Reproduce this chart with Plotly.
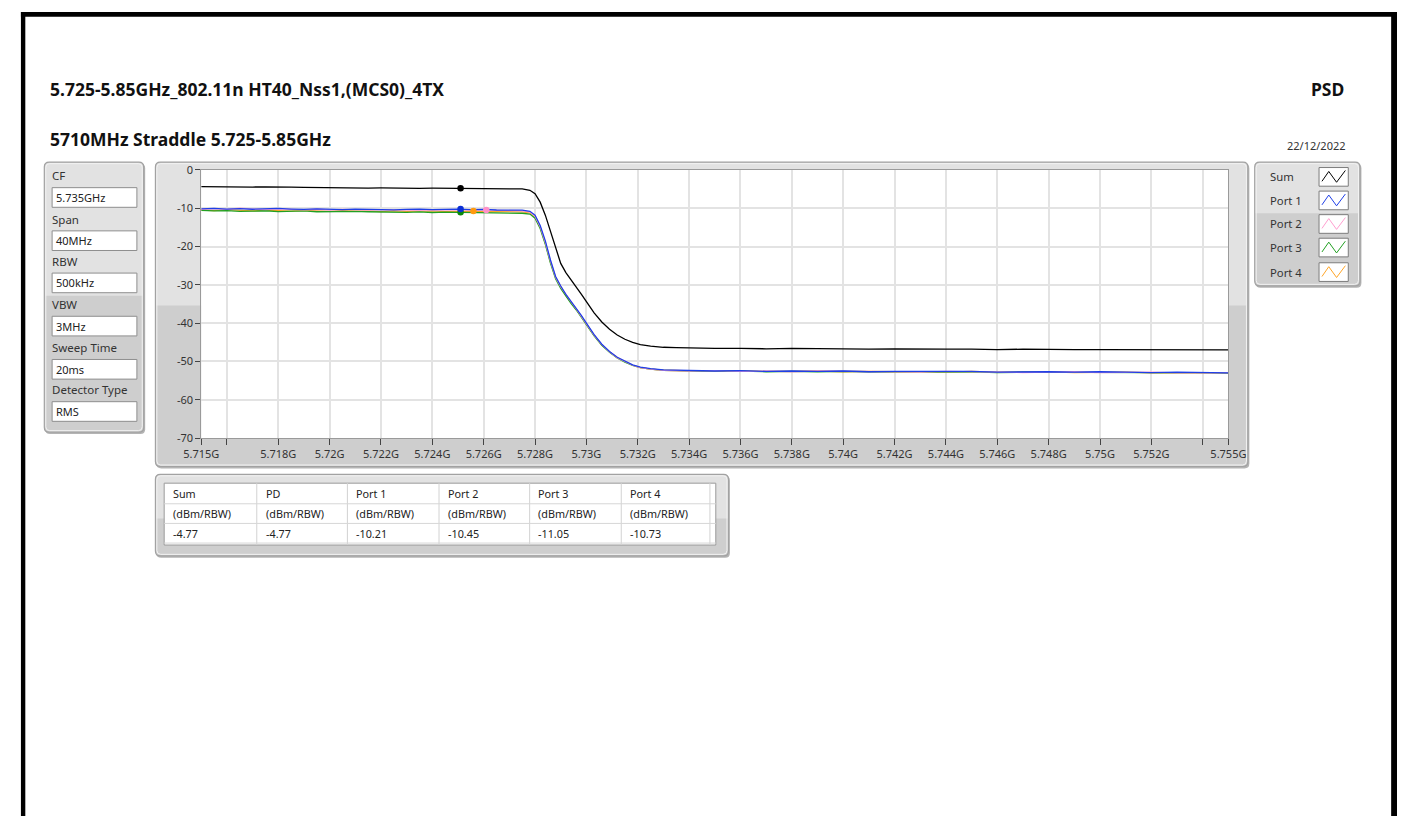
import plotly.graph_objects as go

W, H = 1415, 823

# ---------------- data ----------------
freq_ghz = [
    5.7150, 5.7155, 5.7160, 5.7165, 5.7170, 5.7175, 5.7180, 5.7185, 5.7190, 5.7195,
    5.7200, 5.7205, 5.7210, 5.7215, 5.7220, 5.7225, 5.7230, 5.7235, 5.7240, 5.7245,
    5.7250, 5.7255, 5.7260, 5.7265, 5.7270, 5.7275,
    5.7278, 5.7280, 5.7282, 5.7284, 5.7286, 5.7288, 5.7290, 5.7292, 5.7294, 5.7296,
    5.7298, 5.7300, 5.7303, 5.7306, 5.7309, 5.7312, 5.7315, 5.7318, 5.7321, 5.7325,
    5.7330, 5.7335,
    5.734, 5.735, 5.736, 5.737, 5.738, 5.739, 5.740, 5.741, 5.742, 5.743, 5.744,
    5.745, 5.746, 5.747, 5.748, 5.749, 5.750, 5.751, 5.752, 5.753, 5.754, 5.755,
]

sum_dbm = [
    -4.35, -4.42, -4.30, -4.38, -4.45, -4.40, -4.52, -4.48, -4.55, -4.62,
    -4.58, -4.70, -4.66, -4.72, -4.68, -4.75, -4.70, -4.78, -4.74, -4.80,
    -4.77, -4.85, -4.90, -4.86, -4.92, -4.95,
    -5.3, -6.2, -8.4, -11.8, -16.0, -20.8, -24.4, -26.8, -28.6, -30.4,
    -32.4, -34.4, -37.3, -39.7, -41.6, -43.1, -44.2, -45.0, -45.6, -46.0,
    -46.3, -46.4,
    -46.5, -46.6, -46.6, -46.7, -46.6, -46.7, -46.7, -46.8, -46.7, -46.8, -46.8,
    -46.8, -46.9, -46.8, -46.9, -46.9, -46.9, -46.9, -47.0, -46.9, -47.0, -47.0,
]

port1_dbm = [
    -10.15, -10.05, -10.20, -10.10, -10.25, -10.15, -10.05, -10.20, -10.30, -10.15,
    -10.25, -10.35, -10.20, -10.30, -10.25, -10.40, -10.30, -10.20, -10.35, -10.25,
    -10.21, -10.35, -10.30, -10.45, -10.40, -10.50,
    -10.8, -11.8, -14.5, -18.5, -23.5, -27.8, -30.3, -32.5, -34.3, -36.0,
    -38.0, -40.0, -43.0, -45.5, -47.4, -48.9, -50.0, -50.9, -51.5, -51.9,
    -52.2, -52.3,
    -52.4, -52.5, -52.4, -52.6, -52.5, -52.6, -52.5, -52.7, -52.6, -52.6, -52.7,
    -52.6, -52.8, -52.7, -52.7, -52.8, -52.7, -52.8, -52.9, -52.8, -52.9, -53.0,
]

port2_dbm = [
    -10.25, -10.10, -10.30, -9.95, -10.20, -10.35, -10.15, -10.30, -10.40, -10.25,
    -10.45, -10.30, -10.40, -10.50, -10.35, -10.45, -10.40, -10.55, -10.45, -10.50,
    -10.40, -10.45, -10.45, -10.50, -10.55, -10.65,
    -11.0, -12.1, -14.8, -18.9, -23.8, -28.0, -30.5, -32.6, -34.4, -36.2,
    -38.1, -40.2, -43.1, -45.6, -47.5, -49.0, -50.1, -51.0, -51.6, -52.0,
    -52.3, -52.4,
    -52.5, -52.4, -52.6, -52.5, -52.7, -52.5, -52.6, -52.6, -52.7, -52.8, -52.6,
    -52.7, -52.7, -52.9, -52.8, -52.7, -52.9, -52.8, -52.8, -53.0, -52.9, -53.0,
]

port3_dbm = [
    -10.55, -10.70, -10.60, -10.80, -10.75, -10.65, -10.85, -10.80, -10.70, -10.90,
    -10.85, -10.95, -10.80, -10.90, -11.00, -10.95, -11.05, -10.95, -11.10, -11.00,
    -11.05, -11.10, -11.20, -11.15, -11.25, -11.30,
    -11.5, -12.6, -15.3, -19.4, -24.3, -28.4, -30.9, -33.0, -34.8, -36.5,
    -38.4, -40.4, -43.3, -45.8, -47.6, -49.1, -50.2, -51.0, -51.6, -52.0,
    -52.3, -52.4,
    -52.6, -52.5, -52.5, -52.7, -52.6, -52.7, -52.6, -52.7, -52.8, -52.7, -52.8,
    -52.7, -52.9, -52.8, -52.8, -52.9, -52.8, -52.9, -52.9, -53.0, -52.9, -53.1,
]

port4_dbm = [
    -10.45, -10.60, -10.35, -10.55, -10.70, -10.50, -10.60, -10.75, -10.55, -10.65,
    -10.80, -10.60, -10.75, -10.70, -10.85, -10.65, -10.80, -10.75, -10.70, -10.85,
    -10.70, -10.73, -10.90, -10.80, -10.85, -10.95,
    -11.2, -12.3, -15.0, -19.1, -24.0, -28.1, -30.6, -32.8, -34.6, -36.3,
    -38.2, -40.3, -43.2, -45.7, -47.5, -49.0, -50.1, -51.0, -51.6, -52.0,
    -52.3, -52.4,
    -52.5, -52.6, -52.4, -52.6, -52.6, -52.5, -52.7, -52.6, -52.7, -52.7, -52.8,
    -52.6, -52.8, -52.8, -52.7, -52.9, -52.8, -52.8, -53.0, -52.9, -52.9, -53.0,
]

series_names = ["Sum", "Port 1", "Port 2", "Port 3", "Port 4"]
marker_freq_ghz = [5.7251, 5.7251, 5.7261, 5.7251, 5.7256]
marker_level_dbm = [-4.77, -10.21, -10.45, -11.05, -10.73]

x_tick_vals = [5.715, 5.716, 5.718, 5.720, 5.722, 5.724, 5.726, 5.728, 5.730, 5.732,
               5.734, 5.736, 5.738, 5.740, 5.742, 5.744, 5.746, 5.748, 5.750, 5.752,
               5.754, 5.755]
x_tick_text = ["5.715G", "", "5.718G", "5.72G", "5.722G", "5.724G", "5.726G", "5.728G",
               "5.73G", "5.732G", "5.734G", "5.736G", "5.738G", "5.74G", "5.742G",
               "5.744G", "5.746G", "5.748G", "5.75G", "5.752G", "", "5.755G"]
y_tick_vals = [0, -10, -20, -30, -40, -50, -60, -70]

setting_labels = ["CF", "Span", "RBW", "VBW", "Sweep Time", "Detector Type"]
setting_values = ["5.735GHz", "40MHz", "500kHz", "3MHz", "20ms", "RMS"]

table_headers = ["Sum", "PD", "Port 1", "Port 2", "Port 3", "Port 4"]
table_unit = "(dBm/RBW)"
table_values = [-4.77, -4.77, -10.21, -10.45, -11.05, -10.73]

title_main = "5.725-5.85GHz_802.11n HT40_Nss1,(MCS0)_4TX"
title_sub = "5710MHz Straddle 5.725-5.85GHz"
title_right = "PSD"
date_text = "22/12/2022"

# ---------------- styling ----------------
FONT = "Noto Sans"
line_colors = ["#000000", "#1f3fe8", "#ff9fd0", "#22a022", "#ffa526"]
marker_colors = ["#000000", "#0a2fd6", "#ff90c8", "#0a8a0a", "#ff9a10"]
LIGHT = "#e2e2e2"
DARK = "#cecece"
EDGE = "#a2a2a2"


def X(px):
    return px / W


def Y(py):
    return 1 - py / H


def rr_path(x0, y0, x1, y1, r, top_round=True, bottom_round=True):
    rt = r if top_round else 0
    rb = r if bottom_round else 0
    p = []
    p.append(f"M {X(x0 + rt):.6f},{Y(y0):.6f}")
    p.append(f"L {X(x1 - rt):.6f},{Y(y0):.6f}")
    p.append(f"Q {X(x1):.6f},{Y(y0):.6f} {X(x1):.6f},{Y(y0 + rt):.6f}")
    p.append(f"L {X(x1):.6f},{Y(y1 - rb):.6f}")
    p.append(f"Q {X(x1):.6f},{Y(y1):.6f} {X(x1 - rb):.6f},{Y(y1):.6f}")
    p.append(f"L {X(x0 + rb):.6f},{Y(y1):.6f}")
    p.append(f"Q {X(x0):.6f},{Y(y1):.6f} {X(x0):.6f},{Y(y1 - rb):.6f}")
    p.append(f"L {X(x0):.6f},{Y(y0 + rt):.6f}")
    p.append(f"Q {X(x0):.6f},{Y(y0):.6f} {X(x0 + rt):.6f},{Y(y0):.6f} Z")
    return " ".join(p)


shapes = []


def rect(x0, y0, x1, y1, fill, line=None, lw=1):
    shapes.append(dict(type="rect", xref="paper", yref="paper", layer="below",
                       x0=X(x0), x1=X(x1), y0=Y(y1), y1=Y(y0),
                       fillcolor=fill,
                       line=dict(color=line or fill, width=lw if line else 0)))


def hline(x0, x1, y, color, lw=1):
    shapes.append(dict(type="line", xref="paper", yref="paper", layer="below",
                       x0=X(x0), x1=X(x1), y0=Y(y), y1=Y(y),
                       line=dict(color=color, width=lw)))


def vline(x, y0, y1, color, lw=1):
    shapes.append(dict(type="line", xref="paper", yref="paper", layer="below",
                       x0=X(x), x1=X(x), y0=Y(y0), y1=Y(y1),
                       line=dict(color=color, width=lw)))


def panel(x0, y0, x1, y1, split, r=5):
    shapes.append(dict(type="path", xref="paper", yref="paper", layer="below",
                       path=rr_path(x0 + 1, y0 + 1.5, x1 + 1.5, y1 + 2, r),
                       fillcolor="#b4b4b4", line=dict(width=0)))
    shapes.append(dict(type="path", xref="paper", yref="paper", layer="below",
                       path=rr_path(x0, y0, x1, y1, r),
                       fillcolor=DARK, line=dict(color=EDGE, width=1.2)))
    shapes.append(dict(type="path", xref="paper", yref="paper", layer="below",
                       path=rr_path(x0 + 1, y0 + 1, x1 - 1, split, r - 1, bottom_round=False),
                       fillcolor=LIGHT, line=dict(width=0)))
    shapes.append(dict(type="path", xref="paper", yref="paper", layer="below",
                       path=rr_path(x0 + 1.5, y0 + 1.5, x1 - 1.5, y1 - 1.5, r - 1),
                       fillcolor="rgba(0,0,0,0)", line=dict(color="#f2f2f2", width=1)))


annotations = []


def text(x, y, s, size=12, color="#2b2b2b", xanchor="left", bold=False):
    annotations.append(dict(xref="paper", yref="paper", x=X(x), y=Y(y),
                            text=(f"<b>{s}</b>" if bold else s),
                            showarrow=False, xanchor=xanchor, yanchor="middle",
                            font=dict(family=FONT, size=size, color=color)))


# page frame
rect(3, 4, 7.5, H, "#000000")
rect(3, 4, 1413, 9, "#000000")
rect(1409, 4, 1415, H, "#000000")

# titles
text(31, 83, title_main, size=17.5, color="#111111", bold=True)
text(1363, 82, title_right, size=17.5, color="#111111", xanchor="right", bold=True)
text(31, 133, title_sub, size=17.5, color="#111111", bold=True)
text(1365, 140, date_text, size=11, color="#333333", xanchor="right")

# left settings panel
panel(27, 157, 129, 432, split=293)
label_y = [171, 215, 258, 302, 346, 389]
for lab, val, ly in zip(setting_labels, setting_values, label_y):
    text(33, ly, lab, size=11.5, color="#333333")
    bx0, by0, bx1, by1 = 35, ly + 12, 122, ly + 32
    rect(bx0, by0, bx1, by1, "#ffffff", line="#8e8e8e", lw=1)
    text(bx0 + 2, (by0 + by1) / 2, val, size=11, color="#222222")

# plot panel
panel(141, 157, 1262, 467, split=303)
rect(188, 165, 1242, 438, "#ffffff")

# legend panel
panel(1269, 157, 1377, 283, split=209)
leg_y = [172, 196, 220, 244, 269]
for name, col, ly in zip(series_names, line_colors, leg_y):
    text(1283, ly, name, size=11.3, color="#333333")
    bx0, by0, bx1, by1 = 1335, ly - 9.5, 1365, ly + 9.5
    rect(bx0, by0, bx1, by1, "#ffffff", line="#7c7c7c", lw=1)
    pts = [(bx0 + 3, by1 - 5), (bx0 + 10, by0 + 4), (bx0 + 18, by1 - 4), (bx0 + 27, by0 + 3)]
    path = "M " + " L ".join(f"{X(px):.6f},{Y(py):.6f}" for px, py in pts)
    shapes.append(dict(type="path", xref="paper", yref="paper", layer="below",
                       path=path, line=dict(color=col, width=1), fillcolor="rgba(0,0,0,0)"))

# results table
panel(141, 475, 729, 558, split=520)
rect(150, 484, 716, 547, "#ffffff", line="#9a9a9a", lw=1)
col_x = [150, 245, 338, 432, 525, 619, 710]
for cx in col_x[1:]:
    vline(cx, 484, 547, "#d2d2d2")
for ry in [505, 525, 545]:
    hline(150, 716, ry, "#d6d6d6")
row_y = [494.5, 515, 535]
for i, (hd, v) in enumerate(zip(table_headers, table_values)):
    tx = col_x[i] + 7
    text(tx, row_y[0], hd, size=10.8, color="#222222")
    text(tx, row_y[1], table_unit, size=10.8, color="#222222")
    text(tx, row_y[2], f"{v:.2f}", size=10.8, color="#222222")

# ---------------- traces ----------------
fig = go.Figure()
series = [sum_dbm, port1_dbm, port2_dbm, port3_dbm, port4_dbm]
draw_order = [4, 3, 2, 1, 0]
for i in draw_order:
    fig.add_trace(go.Scatter(x=freq_ghz, y=series[i], mode="lines", name=series_names[i],
                             line=dict(color=line_colors[i], width=1.3), showlegend=False,
                             hoverinfo="skip"))
for i in draw_order:
    fig.add_trace(go.Scatter(x=[marker_freq_ghz[i]], y=[marker_level_dbm[i]], mode="markers",
                             marker=dict(color=marker_colors[i], size=6.5), showlegend=False,
                             hoverinfo="skip"))

fig.update_layout(
    width=W, height=H,
    margin=dict(l=0, r=0, t=0, b=0),
    paper_bgcolor="#ffffff",
    plot_bgcolor="rgba(0,0,0,0)",
    shapes=shapes,
    annotations=annotations,
    showlegend=False,
    font=dict(family=FONT, size=11, color="#333333"),
    xaxis=dict(domain=[X(188), X(1242)], range=[5.715, 5.755],
               tickvals=x_tick_vals, ticktext=x_tick_text,
               showgrid=True, gridcolor="#e3e3e3", gridwidth=1.5,
               ticks="outside", ticklen=6, tickcolor="#444444", tickwidth=1,
               showline=True, linecolor="#9a9a9a", linewidth=1, mirror=True,
               zeroline=False, tickfont=dict(family=FONT, size=11, color="#333333")),
    yaxis=dict(domain=[Y(438), Y(165)], range=[-70, 0],
               tickvals=y_tick_vals, ticktext=[str(v) for v in y_tick_vals],
               showgrid=True, gridcolor="#e3e3e3", gridwidth=1.5,
               ticks="outside", ticklen=5, tickcolor="#444444", tickwidth=1,
               showline=True, linecolor="#9a9a9a", linewidth=1, mirror=True,
               zeroline=False, tickfont=dict(family=FONT, size=11, color="#333333")),
)

fig.write_html("out.html", config={"displayModeBar": False},
               post_script="document.body.style.margin='0';document.body.style.overflow='hidden';")
